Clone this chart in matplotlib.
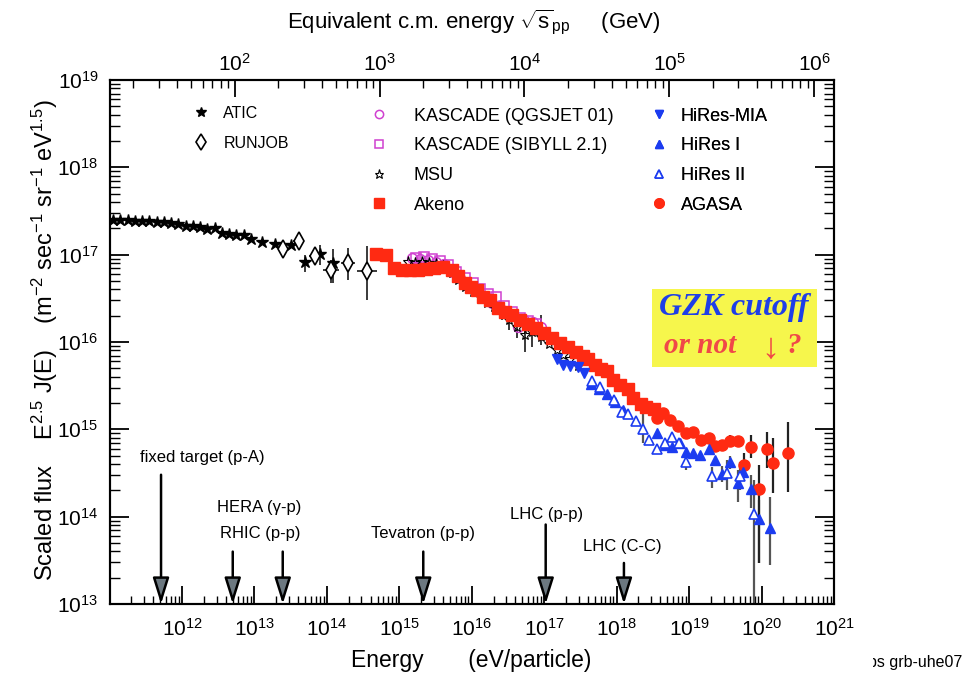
import numpy as np
import matplotlib
matplotlib.use("Agg")
import matplotlib.pyplot as plt
from matplotlib.patches import Rectangle
from matplotlib.lines import Line2D
from matplotlib.ticker import LogLocator, NullFormatter
from matplotlib.transforms import Bbox

plt.rcParams['font.family'] = ['Liberation Sans', 'DejaVu Sans']
plt.rcParams['mathtext.fontset'] = 'custom'
plt.rcParams['mathtext.rm'] = 'Liberation Sans'
plt.rcParams['mathtext.it'] = 'Liberation Sans:italic'
plt.rcParams['mathtext.bf'] = 'Liberation Sans:bold'

M_P = 0.938  # proton mass, GeV

# ---- data: log10(E / eV), log10(E^2.5 J(E)) ----
atic_le = [11.05, 11.15, 11.25, 11.35, 11.45, 11.55, 11.65, 11.75, 11.85, 11.95,
           12.05, 12.15, 12.25, 12.35, 12.45, 12.55, 12.65, 12.75, 12.85, 12.95,
           13.10, 13.29, 13.50, 13.70, 13.90, 14.09]
atic_lf = [17.40, 17.40, 17.40, 17.39, 17.38, 17.38, 17.37, 17.37, 17.36, 17.35,
           17.33, 17.33, 17.32, 17.29, 17.30, 17.25, 17.24, 17.23, 17.22, 17.18,
           17.15, 17.12, 17.11, 16.92, 17.01, 16.91]
atic_bar_le = [13.70, 13.90, 14.09]
atic_bar_lo = [16.80, 16.88, 16.68]
atic_bar_hi = [17.00, 17.11, 17.06]

runjob_le = [13.40, 13.61, 13.83, 14.06, 14.29, 14.55]
runjob_lf = [17.06, 17.16, 16.98, 16.83, 16.91, 16.81]
runjob_lo = [17.02, 17.12, 16.92, 16.68, 16.71, 16.48]
runjob_hi = [17.10, 17.20, 17.04, 16.94, 17.08, 17.10]
runjob_dx = [0.05, 0.08, 0.08, 0.11, 0.10, 0.14]

kq_le = [15.18, 15.29, 15.40, 15.51, 15.62, 15.73, 15.84, 15.95, 16.06, 16.17,
         16.28, 16.39, 16.50, 16.64, 16.72, 16.85, 16.96]
kq_lf = [16.96, 16.95, 16.94, 16.92, 16.89, 16.83, 16.73, 16.64, 16.59, 16.51,
         16.45, 16.39, 16.32, 16.17, 16.25, 16.23, 16.17]

ks_le = [15.23, 15.34, 15.45, 15.56, 15.67, 15.78, 15.90, 16.01, 16.12, 16.23,
         16.34, 16.45, 16.56, 16.67, 16.78, 16.89]
ks_lf = [16.96, 16.97, 16.95, 16.93, 16.88, 16.80, 16.73, 16.68, 16.61, 16.55,
         16.52, 16.41, 16.34, 16.28, 16.24, 16.21]

msu_le = [15.12, 15.22, 15.31, 15.41, 15.51, 15.60, 15.72, 15.81, 15.91, 16.01,
          16.12, 16.21, 16.31, 16.42, 16.52, 16.63, 16.74, 16.83, 16.95, 17.06,
          17.17, 17.26, 17.36, 17.47]
msu_lf = [16.92, 16.91, 16.92, 16.91, 16.89, 16.87, 16.79, 16.71, 16.63, 16.57,
          16.51, 16.45, 16.40, 16.34, 16.25, 16.17, 16.08, 16.12, 16.06, 15.98,
          15.91, 15.85, 15.80, 15.73]
msu_bar_le = [16.42, 16.52, 16.63, 16.74, 16.83, 16.95]
msu_bar_lo = [16.25, 16.14, 16.05, 15.89, 15.94, 15.97]
msu_bar_hi = [16.44, 16.35, 16.30, 16.28, 16.28, 16.31]

akeno_le = [14.68, 14.82, 14.93, 15.04, 15.15, 15.26, 15.37, 15.48, 15.60, 15.72,
            15.81, 15.91, 15.99, 16.07, 16.16, 16.25, 16.36, 16.46, 16.56, 16.67,
            16.77, 16.88, 16.99, 17.11, 17.22, 17.33, 17.44, 17.53, 17.61, 17.70,
            17.79, 17.87, 17.95, 18.05, 18.15, 18.23, 18.33, 18.41, 18.51]
akeno_lf = [17.01, 17.00, 16.85, 16.83, 16.83, 16.83, 16.84, 16.85, 16.86, 16.83,
            16.76, 16.68, 16.63, 16.59, 16.51, 16.48, 16.39, 16.34, 16.31, 16.25,
            16.21, 16.16, 16.10, 16.05, 15.99, 15.94, 15.89, 15.84, 15.80, 15.74,
            15.69, 15.67, 15.57, 15.51, 15.46, 15.36, 15.29, 15.26, 15.23]

mia_le = [17.17, 17.26, 17.36, 17.46, 17.55]
mia_lf = [15.80, 15.74, 15.73, 15.71, 15.65]

hr1_le = [17.64, 17.75, 17.86, 17.98, 18.09, 18.56, 18.67, 18.77, 18.88, 18.96,
          19.06, 19.15, 19.27, 19.36, 19.46, 19.56, 19.67, 19.75, 19.86, 19.96, 20.11]
hr1_lf = [15.52, 15.46, 15.41, 15.31, 15.22, 14.96, 14.82, 14.80, 14.84, 14.74,
          14.73, 14.71, 14.78, 14.65, 14.49, 14.63, 14.39, 14.51, 14.32, 13.97, 13.87]
hr1_bar_le = [19.46, 19.56, 19.67, 19.75, 19.86, 19.96, 20.11]
hr1_bar_lo = [14.40, 14.55, 14.17, 14.42, 14.10, 13.47, 13.45]
hr1_bar_hi = [14.58, 14.70, 14.53, 14.60, 14.48, 14.19, 14.23]

hr2_le = [17.66, 17.77, 17.96, 18.07, 18.16, 18.26, 18.36, 18.45, 18.56, 18.67,
          18.76, 18.86, 18.96, 19.31, 19.52, 19.70, 19.90]
hr2_lf = [15.55, 15.49, 15.34, 15.20, 15.17, 15.09, 15.00, 14.88, 14.78, 14.84,
          14.91, 14.84, 14.63, 14.46, 14.50, 14.46, 14.03]
hr2_bar_le = [18.36, 18.96, 19.31, 19.52, 19.70, 19.90]
hr2_bar_lo = [14.84, 14.53, 14.33, 14.31, 14.31, 12.50]
hr2_bar_hi = [15.20, 14.72, 14.57, 14.65, 14.63, 14.42]

agasa_le = [18.56, 18.64, 18.74, 18.85, 18.96, 19.06, 19.17, 19.27, 19.36, 19.46,
            19.57, 19.67, 19.76, 19.86, 19.97, 20.07, 20.16, 20.36]
agasa_lf = [15.13, 15.19, 15.11, 15.04, 14.96, 14.97, 14.88, 14.90, 14.81, 14.82,
            14.87, 14.87, 14.59, 14.80, 14.32, 14.78, 14.62, 14.73]
agasa_bar_le = [19.57, 19.76, 19.86, 19.97, 20.07, 20.16, 20.36]
agasa_bar_lo = [14.82, 14.45, 14.67, 13.47, 14.56, 14.27, 14.28]
agasa_bar_hi = [14.93, 14.73, 14.94, 14.59, 14.97, 14.90, 15.08]

# accelerator reach: log10(E lab), log10 of arrow tail
acc_le = [11.71, 12.70, 13.39, 15.33, 17.02, 18.10]
acc_tail = [14.48, 13.60, 13.60, 13.60, 13.91, 13.47]
acc_labels = ["fixed target (p-A)", "HERA (\u03b3-p)", "RHIC (p-p)",
              "Tevatron (p-p)", "LHC (p-p)", "LHC (C-C)"]
acc_label_le = [12.28, 13.07, 13.08, 15.33, 17.03, 18.08]
acc_label_lf = [14.68, 14.10, 13.81, 13.81, 14.03, 13.66]

RED = '#ff2a12'
BLUE = '#1c3cf0'
MAG = '#d040d0'
ERR = '#3a3a3a'


def P(v):
    return 10.0 ** np.asarray(v, dtype=float)


def sqrt_s(e_ev):
    return np.sqrt(2.0 * M_P * e_ev / 1e9)


fig = plt.figure(figsize=(9.66, 6.78), dpi=100)
ax = fig.add_axes([0.11346, 0.10914, 0.74990, 0.77286])
ax.set_xscale('log')
ax.set_yscale('log')
ax.set_xlim(1e11, 1e21)
ax.set_ylim(1e13, 1e19)

# error bars first so markers sit on top
ax.vlines(P(atic_bar_le), P(atic_bar_lo), P(atic_bar_hi), color=ERR, lw=1.4, zorder=2)
ax.vlines(P(runjob_le), P(runjob_lo), P(runjob_hi), color=ERR, lw=1.4, zorder=2)
ax.hlines(P(runjob_lf), P(np.array(runjob_le) - runjob_dx),
          P(np.array(runjob_le) + runjob_dx), color=ERR, lw=1.4, zorder=2)
ax.vlines(P(msu_bar_le), P(msu_bar_lo), P(msu_bar_hi), color=ERR, lw=1.4, zorder=2)
ax.vlines(P(hr1_bar_le), P(hr1_bar_lo), P(hr1_bar_hi), color='#555555', lw=1.6, zorder=2)
ax.vlines(P(hr2_bar_le), P(hr2_bar_lo), P(hr2_bar_hi), color='#555555', lw=1.6, zorder=2)
ax.vlines(P(agasa_bar_le), P(agasa_bar_lo), P(agasa_bar_hi), color='#222222', lw=1.6, zorder=2)

series = {}
series['ATIC'] = ax.plot(P(atic_le), P(atic_lf), ls='none', marker='*', ms=9,
                         color='black', zorder=4)[0]
series['RUNJOB'] = ax.plot(P(runjob_le), P(runjob_lf), ls='none', marker='d', ms=9,
                           mfc='white', mec='black', mew=1.2, zorder=4)[0]
series['KASCADE (QGSJET 01)'] = ax.plot(P(kq_le), P(kq_lf), ls='none', marker='o', ms=7,
                                        mfc='none', mec=MAG, mew=1.1, zorder=3)[0]
series['KASCADE (SIBYLL 2.1)'] = ax.plot(P(ks_le), P(ks_lf), ls='none', marker='s', ms=6.5,
                                         mfc='none', mec=MAG, mew=1.1, zorder=3)[0]
series['MSU'] = ax.plot(P(msu_le), P(msu_lf), ls='none', marker='*', ms=8,
                        mfc='none', mec='black', mew=0.8, zorder=3)[0]
series['Akeno'] = ax.plot(P(akeno_le), P(akeno_lf), ls='none', marker='s', ms=8,
                          color=RED, mec=RED, zorder=4)[0]
series['HiRes-MIA'] = ax.plot(P(mia_le), P(mia_lf), ls='none', marker='v', ms=6.5,
                              color=BLUE, zorder=5)[0]
series['HiRes I'] = ax.plot(P(hr1_le), P(hr1_lf), ls='none', marker='^', ms=6.5,
                            color=BLUE, zorder=5)[0]
series['HiRes II'] = ax.plot(P(hr2_le), P(hr2_lf), ls='none', marker='^', ms=7.5,
                             mfc='white', mec=BLUE, mew=1.2, zorder=5)[0]
series['AGASA'] = ax.plot(P(agasa_le), P(agasa_lf), ls='none', marker='o', ms=8,
                          color=RED, mec=RED, zorder=4)[0]

# accelerator arrows
for le, tail in zip(acc_le, acc_tail):
    ax.annotate('', xy=(P(le), 1e13), xytext=(P(le), P(tail)),
                arrowprops=dict(arrowstyle='-|>,head_length=1.6,head_width=0.5',
                                mutation_scale=10, fc='#6c7880', ec='black', lw=1.8,
                                shrinkA=0, shrinkB=0), zorder=6)
for lab, le, lf in zip(acc_labels, acc_label_le, acc_label_lf):
    ax.text(P(le), P(lf), lab, ha='center', va='center', fontsize=12, zorder=6)

# legends, three columns
def add_legend(names, anchor, fs, pad, spacing):
    handles = [Line2D([], [], ls='none', marker=series[n].get_marker(),
                      ms=series[n].get_markersize() * 0.85,
                      mfc=series[n].get_markerfacecolor(),
                      mec=series[n].get_markeredgecolor(),
                      mew=series[n].get_markeredgewidth()) for n in names]
    leg = ax.legend(handles, names, loc='upper left', bbox_to_anchor=anchor,
                    frameon=False, fontsize=fs, handlelength=1.0, handletextpad=pad,
                    labelspacing=spacing, borderpad=0, borderaxespad=0, numpoints=1)
    ax.add_artist(leg)

add_legend(['ATIC', 'RUNJOB'], (0.115, 0.951), 11.5, 0.9, 0.95)
add_legend(['KASCADE (QGSJET 01)', 'KASCADE (SIBYLL 2.1)', 'MSU', 'Akeno'],
           (0.360, 0.947), 13, 1.4, 0.7)
add_legend(['HiRes-MIA', 'HiRes I', 'HiRes II', 'AGASA'], (0.746, 0.947), 13, 0.7, 0.7)

# GZK box
ax.add_patch(Rectangle((0.749, 0.453), 0.227, 0.149, transform=ax.transAxes,
                       fc='#f6f64c', ec='none', zorder=7))
serif = ['Liberation Serif', 'DejaVu Serif']
ax.text(0.862, 0.566, 'GZK cutoff', transform=ax.transAxes, ha='center', va='center',
        fontsize=23, fontweight='bold', fontstyle='italic', family=serif,
        color='#1e3ee8', zorder=8)
ax.text(0.815, 0.494, 'or not', transform=ax.transAxes, ha='center', va='center',
        fontsize=21, fontweight='bold', fontstyle='italic', family=serif,
        color='#f04848', zorder=8)
ax.text(0.912, 0.486, '\u2193', transform=ax.transAxes, ha='center', va='center',
        fontsize=26, family=serif, color='#f04848', zorder=8)
ax.text(0.944, 0.494, '?', transform=ax.transAxes, ha='center', va='center',
        fontsize=21, fontweight='bold', fontstyle='italic', family=serif,
        color='#f04848', zorder=8)

# axes styling
ax.set_xticks(P(np.arange(12, 22)))
ax.xaxis.set_minor_locator(LogLocator(base=10, subs=np.arange(2, 10), numticks=100))
ax.xaxis.set_minor_formatter(NullFormatter())
ax.yaxis.set_minor_locator(LogLocator(base=10, subs=np.arange(2, 10), numticks=100))
ax.yaxis.set_minor_formatter(NullFormatter())
ax.tick_params(which='both', direction='in', top=False, right=True, colors='black')
ax.tick_params(axis='y', which='major', length=14, width=1.3, labelsize=15, pad=8)
ax.tick_params(axis='y', which='minor', length=7, width=1.0)
ax.tick_params(axis='x', which='major', length=13, width=1.3, labelsize=15, pad=10)
ax.tick_params(axis='x', which='minor', length=6, width=1.0)
for sp in ax.spines.values():
    sp.set_linewidth(1.5)

# equivalent c.m. energy on top
ax2 = ax.twiny()
ax2.set_xscale('log')
ax2.set_xlim(sqrt_s(1e11), sqrt_s(1e21))
ax2.set_xticks(P(np.arange(2, 7)))
ax2.xaxis.set_minor_locator(LogLocator(base=10, subs=np.arange(2, 10), numticks=100))
ax2.xaxis.set_minor_formatter(NullFormatter())
ax2.tick_params(axis='x', which='major', direction='in', length=12, width=1.3,
                labelsize=15, pad=4)
ax2.tick_params(axis='x', which='minor', direction='in', length=6, width=1.0)
for sp in ax2.spines.values():
    sp.set_linewidth(1.5)

fig.text(0.4907, 0.9676, r'Equivalent c.m. energy $\sqrt{\mathrm{s}}_{\mathrm{pp}}$     (GeV)',
         ha='center', va='center', fontsize=16)
fig.text(0.488, 1 - 660 / 678, 'Energy       (eV/particle)', ha='center', va='center',
         fontsize=16.5)
fig.text(0.0466, 0.4985,
         r'Scaled flux    E$^{2.5}$ J(E)    (m$^{-2}$ sec$^{-1}$ sr$^{-1}$ eV$^{1.5}$)',
         ha='center', va='center', rotation=90, fontsize=17)

note = fig.text(962 / 966, 1 - 663 / 678, 'ps grb-uhe07', ha='right', va='center',
                fontsize=11.5)
note.set_clip_box(Bbox.from_extents(873, 0, 966, 678))
note.set_clip_on(True)

fig.savefig('out.png', dpi=100)
